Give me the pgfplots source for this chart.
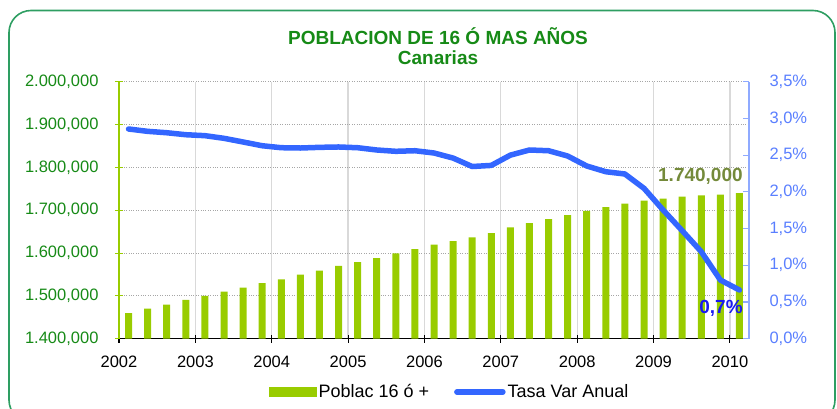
\documentclass[border=0pt]{standalone}
\usepackage{fontspec}
\setmainfont{Liberation Sans}
\usepackage{pgfplots}
\pgfplotsset{compat=1.18}
\definecolor{bargreen}{HTML}{99CC00}
\definecolor{lineblue}{HTML}{3366FF}
\definecolor{titlegreen}{HTML}{168A16}
\definecolor{rightblue}{HTML}{5A7FFF}
\definecolor{rightaxis}{HTML}{8FAAFF}
\definecolor{framegreen}{HTML}{2E9E62}
\definecolor{olivetxt}{HTML}{748A3A}
\definecolor{annblue}{HTML}{1A1AF0}

\pgfplotstableread{
k pob
0 1460000
1 1470500
2 1479800
3 1490700
4 1500000
5 1510000
6 1519400
7 1529500
8 1538800
9 1549600
10 1558900
11 1569800
12 1579000
13 1588400
14 1599200
15 1609300
16 1619400
17 1627800
18 1636400
19 1646500
20 1659700
21 1669800
22 1679100
23 1688400
24 1698400
25 1707000
26 1715500
27 1722500
28 1727100
29 1731800
30 1734900
31 1736400
32 1740000
}\poblac

\pgfplotstableread{
k tasa
0 2.856
1 2.824
2 2.805
3 2.778
4 2.765
5 2.729
6 2.679
7 2.628
8 2.601
9 2.597
10 2.606
11 2.611
12 2.601
13 2.570
14 2.552
15 2.560
16 2.529
17 2.460
18 2.345
19 2.360
20 2.500
21 2.570
22 2.560
23 2.488
24 2.352
25 2.274
26 2.243
27 2.048
28 1.753
29 1.471
30 1.185
31 0.799
32 0.663
}\tasa

\newcommand{\tickfont}{\fontsize{16.5}{19}\selectfont}
\newcommand{\legfont}{\fontsize{18}{21}\selectfont}
\newcommand{\bigfont}{\fontsize{19}{22}\selectfont\bfseries}

\begin{document}
\begin{tikzpicture}[x=1pt,y=1pt]
\path[use as bounding box] (0,0) rectangle (837,408);
\begin{scope}
\clip (0,0) rectangle (837,408);
\draw[framegreen, line width=1.6pt, rounded corners=22pt] (9,-14) rectangle (835,397.5);
\end{scope}

\node[titlegreen, font=\bigfont] at (438,372) {POBLACION DE 16 Ó MAS AÑOS};
\node[titlegreen, font=\bigfont] at (438,350) {Canarias};

\begin{axis}[
  at={(119pt,69.3pt)}, anchor=south west,
  scale only axis, width=630pt, height=257pt,
  xmin=-0.5, xmax=32.5, ymin=1400000, ymax=2000000,
  axis x line*=bottom, axis y line*=left,
  x axis line style={black, line width=1pt, -},
  y axis line style={bargreen, line width=1pt, -},
  xtick={-0.5,3.5,...,31.5},
  xticklabels={2002,2003,2004,2005,2006,2007,2008,2009,2010},
  ytick={1400000,1500000,...,2000000},
  yticklabels={{1.400,000},{1.500,000},{1.600,000},{1.700,000},{1.800,000},{1.900,000},{2.000,000}},
  tick label style={font=\tickfont},
  yticklabel style={titlegreen, xshift=-13pt},
  xticklabel style={black, yshift=-10pt},
  tick align=center, major tick length=8pt,
  xtick style={black, line width=1pt},
  ytick style={bargreen, line width=1pt},
  xmajorgrids, ymajorgrids,
  major x grid style={black!15, line width=1.3pt},
  major y grid style={black!35, dotted, line width=0.8pt},
  clip mode=individual,
  scaled y ticks=false,
]
\addplot[ybar, bar width=7pt, fill=bargreen, draw=none, bar shift=0pt] table[x=k, y=pob] {\poblac};
\node[anchor=east, inner sep=0pt, olivetxt, font=\bigfont] at (axis cs:32.18,1778700) {1.740,000};
\end{axis}

\begin{axis}[
  at={(119pt,69.3pt)}, anchor=south west,
  scale only axis, width=630pt, height=257pt,
  xmin=-0.5, xmax=32.5, ymin=0, ymax=3.5,
  axis x line=none, axis y line*=right,
  y axis line style={rightaxis, line width=1.2pt, -},
  ytick={0,0.5,...,3.5},
  yticklabels={{0,0\%},{0,5\%},{1,0\%},{1,5\%},{2,0\%},{2,5\%},{3,0\%},{3,5\%}},
  tick label style={font=\tickfont},
  yticklabel style={rightblue, xshift=17pt},
  ytick style={rightaxis, line width=1.2pt},
  tick align=inside, major tick length=6pt,
  clip mode=individual,
  legend columns=2,
  legend cell align=left,
  legend style={draw=none, fill=none, inner sep=0pt, font=\legfont,
    at={(axis description cs:0.238,-0.207)}, anchor=west,
    /tikz/every even column/.append style={column sep=23pt}},
]
\addlegendimage{legend image code/.code={\fill[bargreen] (0pt,-4.5pt) rectangle (47pt,4.5pt);}}
\addlegendentry{Poblac 16 ó +}
\addplot[lineblue, line width=5.5pt, line join=round, line cap=round,
  legend image code/.code={\draw[lineblue, line width=5.5pt, line cap=round] (2pt,0pt) -- (48pt,0pt);}]
  table[x=k, y=tasa] {\tasa};
\addlegendentry{Tasa Var Anual}
\node[anchor=east, inner sep=0pt, annblue, font=\bigfont] at (axis cs:32.18,0.418) {0,7\%};
\end{axis}
\end{tikzpicture}
\end{document}
